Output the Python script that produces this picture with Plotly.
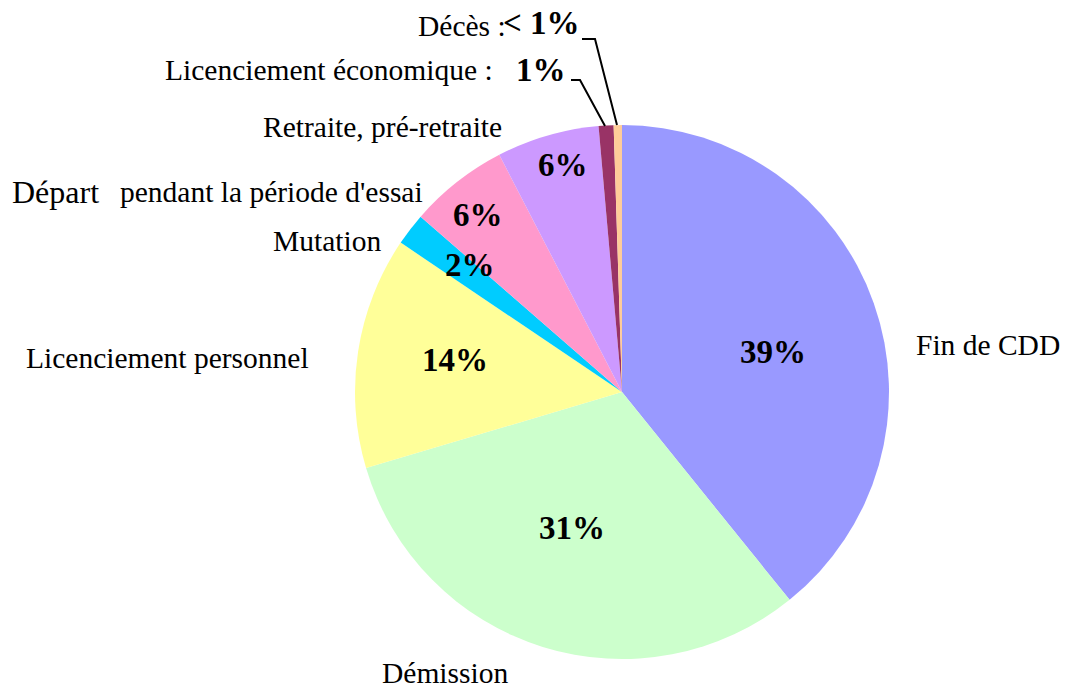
import plotly.graph_objects as go

categories = ["Fin de CDD", "Démission", "Licenciement personnel", "Mutation",
              "Départ pendant la période d'essai", "Retraite, pré-retraite",
              "Licenciement économique", "Décès"]
values = [39.2, 31.2, 14.05, 1.95, 6.0, 6.2, 0.9, 0.5]
pct_labels = ["39%", "31%", "14%", "2%", "6%", "6%", "1%", "< 1%"]
colors = ["#9999FF", "#CCFFCC", "#FFFF99", "#00CCFF", "#FF99CC", "#CC99FF", "#993366", "#FFCC99"]

W, H = 1065, 688
cx, cy, r = 622, 392, 267

def px(x):
    return x / W

def py(y):
    return 1 - y / H

fig = go.Figure(go.Pie(
    labels=categories, values=values, sort=False, direction="clockwise", rotation=0,
    marker=dict(colors=colors, line=dict(width=0)),
    textinfo="none", hoverinfo="label+percent", showlegend=False,
    domain=dict(x=[px(cx - r), px(cx + r)], y=[py(cy + r), py(cy - r)]),
))

FONT = "Liberation Serif"
lab = dict(family=FONT, size=29.5, color="black")
big = dict(family=FONT, size=33, color="black")

annots = [
    # percent labels
    (773, 352, "<b>" + pct_labels[0] + "</b>", big, "center"),
    (572, 528, "<b>" + pct_labels[1] + "</b>", big, "center"),
    (455, 360, "<b>" + pct_labels[2] + "</b>", big, "center"),
    (470, 265, "<b>" + pct_labels[3] + "</b>", big, "center"),
    (478, 215, "<b>" + pct_labels[4] + "</b>", big, "center"),
    (563, 165, "<b>" + pct_labels[5] + "</b>", big, "center"),
    (541, 70, "<b>" + pct_labels[6] + "</b>", big, "center"),
    (541, 23, "<b>" + pct_labels[7] + "</b>", big, "center"),
    # category labels
    (988, 345, categories[0], lab, "center"),
    (445, 673, categories[1], lab, "center"),
    (167, 358, categories[2], lab, "center"),
    (327, 241, categories[3], lab, "center"),
    (271, 192, "pendant la période d'essai", lab, "center"),
    (55, 192, "Départ", dict(family=FONT, size=32, color="black"), "center"),
    (382, 127, categories[5], lab, "center"),
    (329, 70, categories[6] + " :", lab, "center"),
    (462, 26, categories[7] + " :", lab, "center"),
]
for x, y, t, f, al in annots:
    fig.add_annotation(x=px(x), y=py(y), xref="paper", yref="paper", text=t,
                       showarrow=False, font=f, xanchor=al, yanchor="middle")

# leader lines
lines = [
    [(582, 39), (595, 39), (617, 125)],
    [(571, 80), (580, 80), (605, 126)],
]
for pts in lines:
    path = "M " + " L ".join(f"{px(x)},{py(y)}" for x, y in pts)
    fig.add_shape(type="path", path=path, xref="paper", yref="paper",
                  line=dict(color="black", width=2))

fig.update_layout(width=W, height=H, margin=dict(l=0, r=0, t=0, b=0),
                  paper_bgcolor="white", plot_bgcolor="white")
fig.write_html("out.html", config={"displayModeBar": False},
               post_script="document.body.style.margin='0';document.body.style.overflow='hidden';")
